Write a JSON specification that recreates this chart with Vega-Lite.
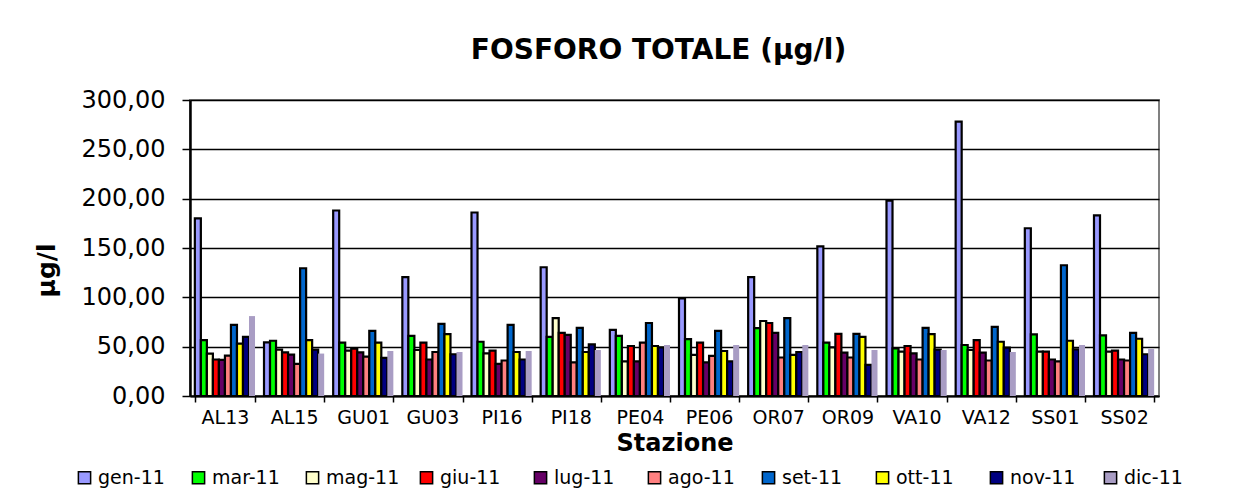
{
  "$schema": "https://vega.github.io/schema/vega-lite/v6.json",
  "autosize": "none",
  "width": 969,
  "height": 296,
  "padding": {"left": 190, "top": 100, "right": 82, "bottom": 108},
  "background": "white",
  "config": {
    "font": "DejaVu Sans",
    "view": {"stroke": "#808080", "strokeWidth": 2},
    "locale": {"number": {"decimal": ",", "thousands": ".", "grouping": [3], "currency": ["", " €"]}},
    "axis": {"labelFont": "DejaVu Sans", "titleFont": "DejaVu Sans", "labelColor": "black", "titleColor": "black", "domainColor": "black", "tickColor": "black", "gridColor": "black"}
  },
  "title": {"text": "FOSFORO TOTALE (µg/l)", "font": "DejaVu Sans", "fontSize": 28, "fontWeight": "bold", "color": "black", "anchor": "middle", "offset": 23, "dx": -16},
  "data": {"values": [
    {"staz":"AL13","mese":"gen-11","val":180},{"staz":"AL13","mese":"mar-11","val":56.7},{"staz":"AL13","mese":"mag-11","val":43},{"staz":"AL13","mese":"giu-11","val":37},{"staz":"AL13","mese":"lug-11","val":36.6},{"staz":"AL13","mese":"ago-11","val":41},{"staz":"AL13","mese":"set-11","val":72},{"staz":"AL13","mese":"ott-11","val":53},{"staz":"AL13","mese":"nov-11","val":60},{"staz":"AL13","mese":"dic-11","val":81},
    {"staz":"AL15","mese":"gen-11","val":54.4},{"staz":"AL15","mese":"mar-11","val":56},{"staz":"AL15","mese":"mag-11","val":47},{"staz":"AL15","mese":"giu-11","val":44.3},{"staz":"AL15","mese":"lug-11","val":42},{"staz":"AL15","mese":"ago-11","val":32.6},{"staz":"AL15","mese":"set-11","val":129.5},{"staz":"AL15","mese":"ott-11","val":56.7},{"staz":"AL15","mese":"nov-11","val":47},{"staz":"AL15","mese":"dic-11","val":43},
    {"staz":"GU01","mese":"gen-11","val":188},{"staz":"GU01","mese":"mar-11","val":54},{"staz":"GU01","mese":"mag-11","val":46},{"staz":"GU01","mese":"giu-11","val":48},{"staz":"GU01","mese":"lug-11","val":44.3},{"staz":"GU01","mese":"ago-11","val":40},{"staz":"GU01","mese":"set-11","val":66},{"staz":"GU01","mese":"ott-11","val":54},{"staz":"GU01","mese":"nov-11","val":38.6},{"staz":"GU01","mese":"dic-11","val":45.6},
    {"staz":"GU03","mese":"gen-11","val":120.5},{"staz":"GU03","mese":"mar-11","val":61},{"staz":"GU03","mese":"mag-11","val":46.6},{"staz":"GU03","mese":"giu-11","val":54},{"staz":"GU03","mese":"lug-11","val":37},{"staz":"GU03","mese":"ago-11","val":44.6},{"staz":"GU03","mese":"set-11","val":73},{"staz":"GU03","mese":"ott-11","val":62.8},{"staz":"GU03","mese":"nov-11","val":42.3},{"staz":"GU03","mese":"dic-11","val":44.6},
    {"staz":"PI16","mese":"gen-11","val":186},{"staz":"PI16","mese":"mar-11","val":55},{"staz":"PI16","mese":"mag-11","val":43.3},{"staz":"PI16","mese":"giu-11","val":46},{"staz":"PI16","mese":"lug-11","val":32.6},{"staz":"PI16","mese":"ago-11","val":36},{"staz":"PI16","mese":"set-11","val":72},{"staz":"PI16","mese":"ott-11","val":44.6},{"staz":"PI16","mese":"nov-11","val":37},{"staz":"PI16","mese":"dic-11","val":45.6},
    {"staz":"PI18","mese":"gen-11","val":130.5},{"staz":"PI18","mese":"mar-11","val":60},{"staz":"PI18","mese":"mag-11","val":79},{"staz":"PI18","mese":"giu-11","val":64},{"staz":"PI18","mese":"lug-11","val":62},{"staz":"PI18","mese":"ago-11","val":34},{"staz":"PI18","mese":"set-11","val":69},{"staz":"PI18","mese":"ott-11","val":44.6},{"staz":"PI18","mese":"nov-11","val":52.3},{"staz":"PI18","mese":"dic-11","val":46.6},
    {"staz":"PE04","mese":"gen-11","val":67},{"staz":"PE04","mese":"mar-11","val":61},{"staz":"PE04","mese":"mag-11","val":35},{"staz":"PE04","mese":"giu-11","val":50.7},{"staz":"PE04","mese":"lug-11","val":35},{"staz":"PE04","mese":"ago-11","val":54},{"staz":"PE04","mese":"set-11","val":74},{"staz":"PE04","mese":"ott-11","val":50.7},{"staz":"PE04","mese":"nov-11","val":49.3},{"staz":"PE04","mese":"dic-11","val":51.7},
    {"staz":"PE06","mese":"gen-11","val":99},{"staz":"PE06","mese":"mar-11","val":57.7},{"staz":"PE06","mese":"mag-11","val":41.6},{"staz":"PE06","mese":"giu-11","val":54},{"staz":"PE06","mese":"lug-11","val":34},{"staz":"PE06","mese":"ago-11","val":40.6},{"staz":"PE06","mese":"set-11","val":66},{"staz":"PE06","mese":"ott-11","val":45.6},{"staz":"PE06","mese":"nov-11","val":35},{"staz":"PE06","mese":"dic-11","val":51.7},
    {"staz":"OR07","mese":"gen-11","val":120.5},{"staz":"OR07","mese":"mar-11","val":68.8},{"staz":"OR07","mese":"mag-11","val":76},{"staz":"OR07","mese":"giu-11","val":74},{"staz":"OR07","mese":"lug-11","val":64},{"staz":"OR07","mese":"ago-11","val":39},{"staz":"OR07","mese":"set-11","val":79},{"staz":"OR07","mese":"ott-11","val":41.6},{"staz":"OR07","mese":"nov-11","val":44.6},{"staz":"OR07","mese":"dic-11","val":51.7},
    {"staz":"OR09","mese":"gen-11","val":151.7},{"staz":"OR09","mese":"mar-11","val":54},{"staz":"OR09","mese":"mag-11","val":49.3},{"staz":"OR09","mese":"giu-11","val":63},{"staz":"OR09","mese":"lug-11","val":44},{"staz":"OR09","mese":"ago-11","val":39},{"staz":"OR09","mese":"set-11","val":63},{"staz":"OR09","mese":"ott-11","val":60},{"staz":"OR09","mese":"nov-11","val":31.5},{"staz":"OR09","mese":"dic-11","val":46.6},
    {"staz":"VA10","mese":"gen-11","val":198},{"staz":"VA10","mese":"mar-11","val":48.3},{"staz":"VA10","mese":"mag-11","val":45},{"staz":"VA10","mese":"giu-11","val":50.7},{"staz":"VA10","mese":"lug-11","val":43.3},{"staz":"VA10","mese":"ago-11","val":37},{"staz":"VA10","mese":"set-11","val":69},{"staz":"VA10","mese":"ott-11","val":62.8},{"staz":"VA10","mese":"nov-11","val":47},{"staz":"VA10","mese":"dic-11","val":46.6},
    {"staz":"VA12","mese":"gen-11","val":278},{"staz":"VA12","mese":"mar-11","val":51.7},{"staz":"VA12","mese":"mag-11","val":46.6},{"staz":"VA12","mese":"giu-11","val":56.7},{"staz":"VA12","mese":"lug-11","val":44},{"staz":"VA12","mese":"ago-11","val":36},{"staz":"VA12","mese":"set-11","val":70},{"staz":"VA12","mese":"ott-11","val":55},{"staz":"VA12","mese":"nov-11","val":49},{"staz":"VA12","mese":"dic-11","val":44.6},
    {"staz":"SS01","mese":"gen-11","val":170},{"staz":"SS01","mese":"mar-11","val":62.4},{"staz":"SS01","mese":"mag-11","val":45},{"staz":"SS01","mese":"giu-11","val":45},{"staz":"SS01","mese":"lug-11","val":37},{"staz":"SS01","mese":"ago-11","val":35},{"staz":"SS01","mese":"set-11","val":132.5},{"staz":"SS01","mese":"ott-11","val":56},{"staz":"SS01","mese":"nov-11","val":47.3},{"staz":"SS01","mese":"dic-11","val":51.7},
    {"staz":"SS02","mese":"gen-11","val":183},{"staz":"SS02","mese":"mar-11","val":61.4},{"staz":"SS02","mese":"mag-11","val":45},{"staz":"SS02","mese":"giu-11","val":46},{"staz":"SS02","mese":"lug-11","val":37},{"staz":"SS02","mese":"ago-11","val":36},{"staz":"SS02","mese":"set-11","val":64},{"staz":"SS02","mese":"ott-11","val":58},{"staz":"SS02","mese":"nov-11","val":42.3},{"staz":"SS02","mese":"dic-11","val":47.6}
  ]},
  "mark": {"type": "bar", "stroke": "black"},
  "encoding": {
    "x": {
      "field": "staz", "type": "nominal", "sort": null,
      "scale": {"paddingInner": 0.13, "paddingOuter": 0.07},
      "axis": {"title": "Stazione", "titleFontSize": 24, "titleFontWeight": "bold", "titleY": 47, "titleBaseline": "middle", "labelAngle": 0, "labelFontSize": 19, "labelPadding": 6, "tickSize": 6, "tickWidth": 1.5, "tickBand": "extent", "domainWidth": 2}
    },
    "xOffset": {"field": "mese", "type": "nominal", "sort": null, "scale": {"paddingInner": 0, "paddingOuter": 0}},
    "y": {
      "field": "val", "type": "quantitative",
      "scale": {"domain": [0, 300], "nice": false},
      "axis": {"title": "µg/l", "titleFontSize": 25, "titleFontWeight": "bold", "titleX": -144, "titleY": 170, "titleBaseline": "middle", "titleAngle": -90, "values": [0, 50, 100, 150, 200, 250, 300], "format": ".2f", "labelFontSize": 24, "labelPadding": 17, "tickSize": 8, "tickWidth": 1.5, "gridWidth": 1.5, "domainWidth": 2.5}
    },
    "color": {
      "field": "mese", "type": "nominal", "sort": null,
      "scale": {
        "domain": ["gen-11","mar-11","mag-11","giu-11","lug-11","ago-11","set-11","ott-11","nov-11","dic-11"],
        "range": ["#9999FF","#00FF00","#FFFFCC","#FF0000","#660066","#FF8080","#0066CC","#FFFF00","#000080","#A99DC4"]
      },
      "legend": {
        "title": null, "orient": "none", "direction": "horizontal", "columns": 10, "gridAlign": "all",
        "legendX": -115, "legendY": 368, "columnPadding": 17,
        "symbolType": "square", "symbolSize": 150, "symbolStrokeColor": "black", "symbolStrokeWidth": 1.5, "symbolOpacity": 1,
        "labelFontSize": 19, "labelFont": "DejaVu Sans", "labelColor": "black", "labelOffset": 4
      }
    },
    "strokeWidth": {"condition": {"test": "datum.mese === 'dic-11'", "value": 0}, "value": 2.2}
  }
}
